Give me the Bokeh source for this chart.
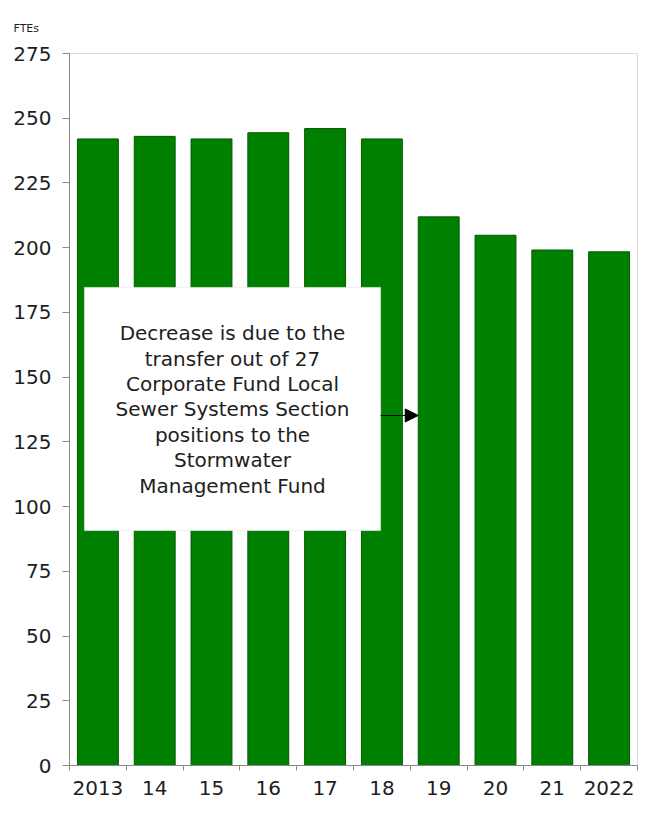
from bokeh.plotting import figure
from bokeh.models import (ColumnDataSource, FixedTicker, BoxAnnotation, Label,
                          Arrow, NormalHead, Range1d, Title)
from bokeh.embed import file_html
from bokeh.resources import INLINE

# ---- data ----
years = ["2013", "14", "15", "16", "17", "18", "19", "20", "21", "2022"]
ftes = [242.0, 243.0, 242.0, 244.4, 246.0, 242.0, 211.9, 204.8, 199.1, 198.4]
y_ticks = [0, 25, 50, 75, 100, 125, 150, 175, 200, 225, 250, 275]
y_axis_title = "FTEs"
note = ("Decrease is due to the\ntransfer out of 27\nCorporate Fund Local\n"
        "Sewer Systems Section\npositions to the\nStormwater\nManagement Fund")

centers = [i + 0.5 for i in range(len(years))]
bounds = list(range(len(years) + 1))
src = ColumnDataSource(dict(x=centers, fte=ftes, year=years))

FONT = "DejaVu Sans"
TXT = "#1e1e1e"
AX = "#8a8a8a"

p = figure(width=646, height=801, x_range=Range1d(0, len(years)),
           y_range=Range1d(0, 275), output_backend="svg", toolbar_location=None,
           min_border_left=69, min_border_right=9, min_border_top=51,
           min_border_bottom=36)
p.background_fill_color = "white"
p.border_fill_color = "white"
p.outline_line_color = "#d9d9d9"
p.xgrid.visible = False
p.ygrid.visible = False

# "FTEs" unit label above the y axis
p.title = Title(text=y_axis_title, align="left", offset=-56, standoff=38,
                text_font=FONT, text_font_size="11px", text_font_style="normal",
                text_color=TXT)

p.vbar(x="x", top="fte", width=0.72, source=src,
       fill_color="#008000", line_color="#005a00", line_width=1)

# x axis
xa = p.xaxis[0]
xa.ticker = FixedTicker(ticks=centers, minor_ticks=bounds)
xa.major_label_overrides = {c: y for c, y in zip(centers, years)}
xa.major_tick_out = 0
xa.major_tick_in = 0
xa.minor_tick_out = 5
xa.minor_tick_in = 0
xa.minor_tick_line_color = AX
xa.axis_line_color = AX
xa.major_label_standoff = 10
xa.major_label_text_font = FONT
xa.major_label_text_font_size = "20px"
xa.major_label_text_color = TXT

# y axis
ya = p.yaxis[0]
ya.ticker = FixedTicker(ticks=y_ticks)
ya.major_tick_out = 7
ya.major_tick_in = 0
ya.minor_tick_line_color = None
ya.major_tick_line_color = AX
ya.axis_line_color = AX
ya.major_label_standoff = 11
ya.major_label_text_font = FONT
ya.major_label_text_font_size = "20px"
ya.major_label_text_color = TXT

# annotation box
p.add_layout(BoxAnnotation(left=0.26, right=5.48, bottom=90.7, top=184.7,
                           fill_color="white", fill_alpha=1.0,
                           line_color="#c8c8c8", line_width=1))
p.add_layout(Label(x=2.87, y=137.5, text=note, text_align="center",
                   text_baseline="middle", text_font=FONT,
                   text_font_size="20px", text_line_height=1.06,
                   text_color=TXT))
p.add_layout(Arrow(end=NormalHead(size=13, fill_color="black", line_color="black"),
                   x_start=5.48, y_start=135.2, x_end=6.14, y_end=135.2,
                   line_color="black", line_width=1))

open("out.html", "w").write(file_html(p, INLINE))
